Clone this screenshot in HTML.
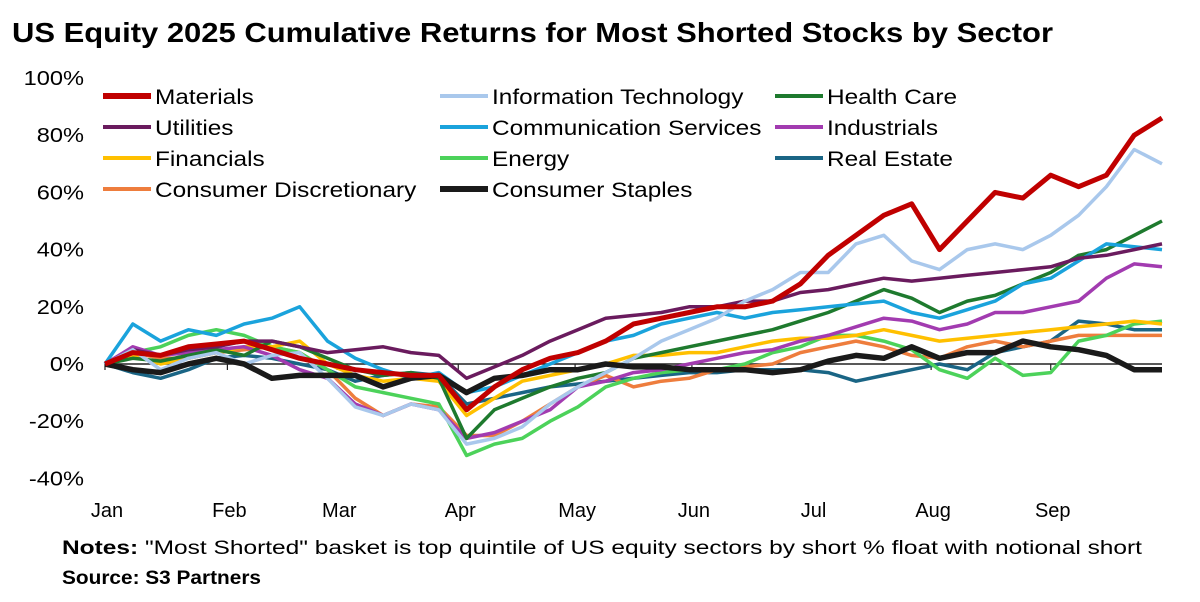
<!DOCTYPE html>
<html><head><meta charset="utf-8"><style>
html,body{margin:0;padding:0;background:#fff;}
svg{display:block;font-family:"Liberation Sans",sans-serif;}
</style></head><body>
<svg id="chart" width="1200" height="602">
<text x="12" y="42" font-size="28" font-weight="bold" textLength="1041" lengthAdjust="spacingAndGlyphs">US Equity 2025 Cumulative Returns for Most Shorted Stocks by Sector</text>
<g id="yaxis"></g>
<g id="xaxis"></g>
<g id="series"></g>
<g id="legend"></g>
<text x="62" y="554" font-size="19" textLength="1080" lengthAdjust="spacingAndGlyphs"><tspan font-weight="bold">Notes:</tspan> "Most Shorted" basket is top quintile of US equity sectors by short % float with notional short</text>
<text x="62" y="584" font-size="19" font-weight="bold" textLength="199" lengthAdjust="spacingAndGlyphs">Source: S3 Partners</text>
</svg>
<script>
const yTicks=[100,80,60,40,20,0,-20,-40];
const monthLabels=["Jan","Feb","Mar","Apr","May","Jun","Jul","Aug","Sep"];
const monthWeeks=[0,4.4,8.35,12.7,16.9,21.1,25.4,29.7,34];
const seriesNames=["Materials","Information Technology","Health Care","Utilities","Communication Services","Industrials","Financials","Energy","Real Estate","Consumer Discretionary","Consumer Staples"];
const materials=[0,4,3,6,7,8,5,2,0,-2,-3,-4,-4,-16,-8,-2,2,4,8,14,16,18,20,20,22,28,38,45,52,56,40,50,60,58,66,62,66,80,86];
const infoTech=[0,5,-2,2,4,0,3,4,-5,-15,-18,-14,-16,-28,-26,-22,-14,-8,-3,2,8,12,16,22,26,32,32,42,45,36,33,40,42,40,45,52,62,75,70];
const healthCare=[0,2,1,3,5,3,8,6,2,-2,-4,-3,-5,-26,-16,-12,-8,-5,-3,2,4,6,8,10,12,15,18,22,26,23,18,22,24,28,32,38,40,45,50];
const utilities=[0,5,3,5,6,8,8,6,4,5,6,4,3,-5,-1,3,8,12,16,17,18,20,20,22,22,25,26,28,30,29,30,31,32,33,34,37,38,40,42];
const commServices=[0,14,8,12,10,14,16,20,8,2,-2,-5,-3,-10,-8,-4,0,4,8,10,14,16,18,16,18,19,20,21,22,18,16,19,22,28,30,36,42,41,40];
const industrials=[0,6,3,4,5,6,3,-2,-5,-14,-18,-14,-16,-26,-24,-20,-16,-8,-6,-3,-2,0,2,4,5,8,10,13,16,15,12,14,18,18,20,22,30,35,34];
const financials=[0,3,0,2,4,6,6,8,0,-4,-6,-5,-6,-18,-12,-6,-4,-2,0,3,3,4,4,6,8,9,9,10,12,10,8,9,10,11,12,13,14,15,14];
const energy=[0,4,6,10,12,10,6,4,-2,-8,-10,-12,-14,-32,-28,-26,-20,-15,-8,-5,-3,-2,-2,0,4,6,10,10,8,5,-2,-5,2,-4,-3,8,10,14,15];
const realEstate=[0,-3,-5,-2,2,3,2,0,-2,-6,-4,-3,-4,-14,-12,-10,-8,-7,-6,-5,-4,-3,-3,-2,-2,-2,-3,-6,-4,-2,0,-2,4,6,8,15,14,12,12];
const consDisc=[0,4,2,2,4,5,6,4,-2,-12,-18,-14,-15,-25,-25,-20,-14,-8,-4,-8,-6,-5,-2,-1,0,4,6,8,6,3,2,6,8,6,8,10,10,10,10];
const consStaples=[0,-2,-3,0,2,0,-5,-4,-4,-4,-8,-5,-4,-10,-5,-4,-2,-2,0,-1,-1,-2,-2,-2,-3,-2,1,3,2,6,2,4,4,8,6,5,3,-2,-2];

const NS="http://www.w3.org/2000/svg";
const X0=105,X1=1162,N=38;
function xs(i){return X0+i*(X1-X0)/N;}
function ys(v){return 364-v*2.86;}
function mk(tag,attrs,parent){const e=document.createElementNS(NS,tag);for(const k in attrs)e.setAttribute(k,attrs[k]);parent.appendChild(e);return e;}
function stretch(t,f){const w=t.getComputedTextLength();t.setAttribute('textLength',(w*f).toFixed(1));t.setAttribute('lengthAdjust','spacingAndGlyphs');}

const yG=document.getElementById('yaxis');
yTicks.forEach(t=>{
  const e=mk('text',{x:84,y:ys(t)+7,'font-size':20,'text-anchor':'end',fill:'#000'},yG);
  
  
  e.textContent=t+'%';
  stretch(e,1.18);
});
const xG=document.getElementById('xaxis');
const zl=mk('line',{x1:X0,x2:X1,y1:ys(0),y2:ys(0),stroke:'#222','stroke-width':1.5},xG);


monthLabels.forEach((m,i)=>{
  const x=xs(monthWeeks[i]);
  const tk=mk('line',{x1:x,x2:x,y1:ys(0),y2:ys(0)+6,stroke:'#222','stroke-width':1.2},xG);
  
  
  const e=mk('text',{x:x+2,y:517,'font-size':20,'text-anchor':'middle',fill:'#000'},xG);
  
  
  e.textContent=m;
});

const data=[materials,infoTech,healthCare,utilities,commServices,industrials,financials,energy,realEstate,consDisc,consStaples];
const colors=["#c00000","#a9c8ec","#1e7a2e","#6a1b5e","#1aa3dc","#a23bb0","#ffc000","#4cd25a","#1a6585","#ee7d3d","#1a1a1a"];
const widths=[5,3.5,3.5,3.5,3.5,3.5,3.5,3.5,3.5,3.5,5.5];
const order=[8,9,7,6,5,2,4,3,1,10,0];
const sG=document.getElementById('series');
order.forEach(k=>{
  const d=data[k].map((v,i)=>(i?'L':'M')+xs(i).toFixed(1)+','+ys(v).toFixed(1)).join(' ');
  const p=mk('path',{d:d,fill:'none',stroke:colors[k],'stroke-width':widths[k],'stroke-linejoin':'round'},sG);
  
  
});

const lG=document.getElementById('legend');
const legPos=[[103,96],[440,96],[775,96],[103,127],[440,127],[775,127],[103,158],[440,158],[775,158],[103,189],[440,189]];
seriesNames.forEach((n,k)=>{
  const [x,y]=legPos[k];
  const g=mk('g',{},lG);
  
  
  mk('line',{x1:x,x2:x+48,y1:y,y2:y,stroke:colors[k],'stroke-width':(k==0||k==10)?6:4},g);
  const t=mk('text',{x:x+52,y:y+8,'font-size':21,fill:'#000'},g);
  t.textContent=n;
  stretch(t,1.16);
});
</script>
</body></html>
